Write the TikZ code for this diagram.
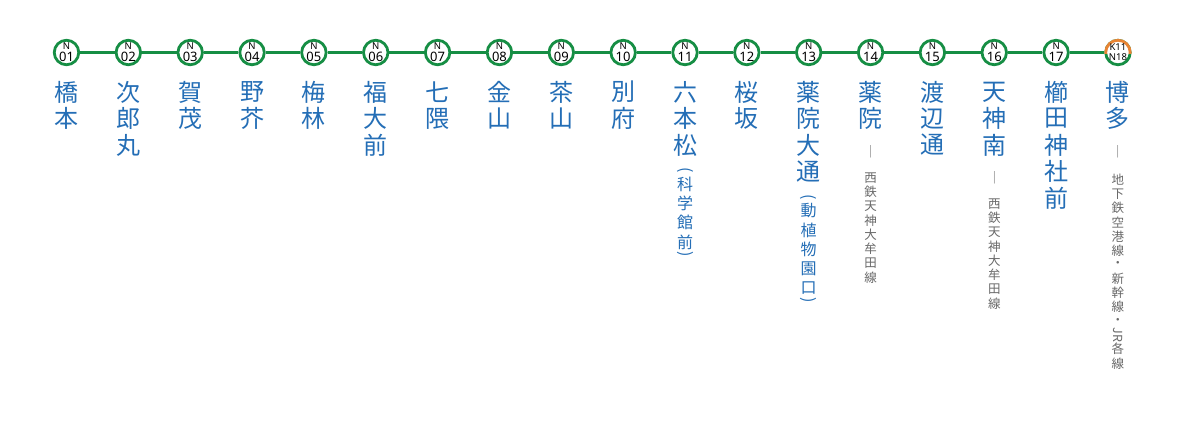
\documentclass[tikz,border=0pt]{standalone}
\usepackage{fontspec}
\usepackage{graphicx}
\setmainfont{Noto Sans}
\newfontfamily\jpfont{Noto Sans CJK JP}
\usetikzlibrary{calc}
\definecolor{lineg}{RGB}{22,142,68}
\definecolor{nameblue}{RGB}{36,110,182}
\definecolor{notegray}{RGB}{105,105,105}
\definecolor{airorange}{RGB}{232,132,52}
\newcommand\vstack[6]{\foreach \ch [count=\k] in {#6}{\node[#5] (#1\k) at ({#2},{#3+(\k-1)*#4}) {\ch};}}
\newcommand\sx[1]{66.5+(#1-1)*61.85}
\begin{document}
\begin{tikzpicture}[x=1pt,y=-1pt,
  stn/.style={circle,draw=lineg,line width=2.8pt,fill=white,minimum size=24.5pt,inner sep=0pt},
  codeN/.style={font=\fontsize{9.5}{9.5}\selectfont,inner sep=0pt,text=black},
  codeNum/.style={font=\fontsize{13}{13}\selectfont,inner sep=0pt,text=black},
  codeTwo/.style={font=\fontsize{9.5}{9.5}\selectfont,inner sep=0pt,text=black},
  namech/.style={font=\jpfont\fontsize{24}{24}\selectfont,text=nameblue,inner sep=0pt},
  subch/.style={font=\jpfont\fontsize{16}{16}\selectfont,text=nameblue,inner sep=0pt},
  parch/.style={font=\jpfont\fontsize{16}{16}\selectfont,text=nameblue,inner sep=0pt,rotate=-90},
  notech/.style={font=\jpfont\fontsize{12.5}{12.5}\selectfont,text=notegray,inner sep=0pt},
  track/.style={draw=lineg,line width=2.6pt}]
\useasboundingbox (0,0) rectangle (1200,421);
\fill[white] (0,0) rectangle (1200,421);
% stations
\foreach \i/\num in {1/01,2/02,3/03,4/04,5/05,6/06,7/07,8/08,9/09,10/10,11/11,12/12,13/13,14/14,15/15,16/16,17/17}{
  \node[stn] (s\i) at ({\sx{\i}},52.5) {};
  \node[codeN] (s\i-N) at ($(s\i)+(0,-6.5)$) {N};
  \node[codeNum] (s\i-num) at ($(s\i)+(0,4.5)$) {\num};
}
\node[stn] (s18) at ({\sx{18}},52.5) {};
\begin{scope}
  \clip ($(s18)+(-16,0.5)$) rectangle ($(s18)+(16,-16)$);
  \node[stn,draw=airorange] (s18top) at (s18) {};
\end{scope}
\node[codeTwo] (s18-K) at ($(s18)+(0,-5)$) {K11};
\node[codeTwo] (s18-N) at ($(s18)+(0,4.8)$) {N18};
% track
\foreach \i [evaluate=\i as \j using int(\i+1)] in {1,...,17}{
  \draw[track] (s\i.east) -- (s\j.west);
}
% names
\vstack{m1-}{\sx{1}}{92}{26.5}{namech}{橋,本}
\vstack{m2-}{\sx{2}}{92}{26.5}{namech}{次,郎,丸}
\vstack{m3-}{\sx{3}}{92}{26.5}{namech}{賀,茂}
\vstack{m4-}{\sx{4}}{92}{26.5}{namech}{野,芥}
\vstack{m5-}{\sx{5}}{92}{26.5}{namech}{梅,林}
\vstack{m6-}{\sx{6}}{92}{26.5}{namech}{福,大,前}
\vstack{m7-}{\sx{7}}{92}{26.5}{namech}{七,隈}
\vstack{m8-}{\sx{8}}{92}{26.5}{namech}{金,山}
\vstack{m9-}{\sx{9}}{92}{26.5}{namech}{茶,山}
\vstack{m10-}{\sx{10}}{92}{26.5}{namech}{別,府}
\vstack{m11-}{\sx{11}}{92}{26.5}{namech}{六,本,松}
\vstack{m12-}{\sx{12}}{92}{26.5}{namech}{桜,坂}
\vstack{m13-}{\sx{13}}{92}{26.5}{namech}{薬,院,大,通}
\vstack{m14-}{\sx{14}}{92}{26.5}{namech}{薬,院}
\vstack{m15-}{\sx{15}}{92}{26.5}{namech}{渡,辺,通}
\vstack{m16-}{\sx{16}}{92}{26.5}{namech}{天,神,南}
\vstack{m17-}{\sx{17}}{92}{26.5}{namech}{櫛,田,神,社,前}
\vstack{m18-}{\sx{18}}{92}{26.5}{namech}{博,多}
% sub names
\node[parch] (p11o) at ({\sx{11}},170) {(};
\vstack{u11-}{\sx{11}}{184}{19.3}{subch}{科,学,館,前}
\node[parch] (p11c) at ({\sx{11}},254) {)};
\node[parch] (p13o) at ({\sx{13}},197) {(};
\vstack{u13-}{\sx{13}}{211}{19.3}{subch}{動,植,物,園,口}
\node[parch] (p13c) at ({\sx{13}},300) {)};
% transfer notes
\node[notech] (b14) at ({\sx{14}},152) {｜};
\vstack{t14-}{\sx{14}}{178}{14.2}{notech}{西,鉄,天,神,大,牟,田,線}
\node[notech] (b16) at ({\sx{16}},178) {｜};
\vstack{t16-}{\sx{16}}{204}{14.2}{notech}{西,鉄,天,神,大,牟,田,線}
\node[notech] (b18) at ({\sx{18}},152) {｜};
\vstack{t18-}{\sx{18}}{180}{14.1}{notech}{地,下,鉄,空,港,線,・,新,幹,線,・,{\rotatebox{-90}{JR}},各,線}
\end{tikzpicture}
\end{document}
